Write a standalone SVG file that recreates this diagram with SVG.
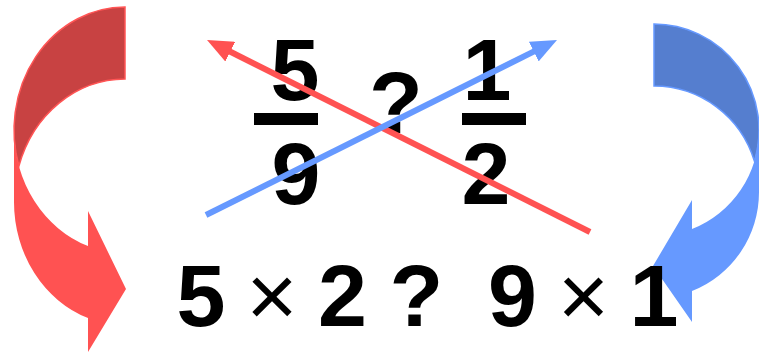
<svg xmlns="http://www.w3.org/2000/svg" width="759" height="354" viewBox="0 0 759 354">
<style>
.t{font-family:"Liberation Sans",Arial,sans-serif;font-weight:bold;font-size:88px;fill:#000;text-anchor:middle}
.x{font-family:"Liberation Sans",Arial,sans-serif;font-weight:normal;font-size:88px;fill:#000;text-anchor:middle}
.bar{fill:#000}
.rd{fill:#C84242;stroke:#FF5555;stroke-width:1.5}
.rl{fill:#FF5252}
.bd{fill:#557ECF;stroke:#6699FF;stroke-width:1.5}
.bl{fill:#6699FF}
.cr{stroke:#FF5252;stroke-width:6;fill:none}
.cb{stroke:#6699FF;stroke-width:6;fill:none}
</style>
<defs>
<marker id="hr" markerUnits="userSpaceOnUse" viewBox="0 0 26 22" refX="6" refY="11" markerWidth="26" markerHeight="22" orient="auto"><path d="M0,0 L26,11 L0,22 Z" fill="#FF5252"/></marker>
<marker id="hb" markerUnits="userSpaceOnUse" viewBox="0 0 26 22" refX="6" refY="11" markerWidth="26" markerHeight="22" orient="auto"><path d="M0,0 L26,11 L0,22 Z" fill="#6699FF"/></marker>
</defs>
<g id="curve-left">
<path class="rl" d="M14,130 L14,202 A111,123 0 0 0 88,318 L88,352 L126,289 L88,211 L88,246 A111,123 0 0 1 14,130 Z"/>
<path class="rd" d="M125,7 A111,123 0 0 0 18.9,166 A111,123 0 0 1 125,79 Z"/>
</g>
<g id="curve-right">
<path class="bl" d="M759,130 L759,192 A105,106.1 0 0 1 692,291 L692,322 L653,266 L692,200 L692,229 A105,106.1 0 0 0 759,130 Z"/>
<path class="bd" d="M654,24 A105,106.1 0 0 1 754.4,161.1 A105,106.1 0 0 0 654,86 Z"/>
</g>
<g id="fraction-left">
<text class="t" x="295" y="100">5</text>
<rect class="bar" x="254" y="113" width="64" height="12"/>
<text class="t" x="296" y="204">9</text>
</g>
<g id="question-top">
<text class="t" x="396" y="133">?</text>
</g>
<g id="fraction-right">
<text class="t" x="487" y="100">1</text>
<rect class="bar" x="462" y="113" width="64" height="12"/>
<text class="t" x="486" y="204">2</text>
</g>
<g id="equation">
<text class="t" x="201" y="326">5</text>
<text class="x" x="272" y="326">×</text>
<text class="t" x="342.5" y="326">2</text>
<text class="t" x="416.5" y="326">?</text>
<text class="t" x="512.5" y="326">9</text>
<text class="x" x="583.5" y="326">×</text>
<text class="t" x="654" y="326">1</text>
</g>
<g id="connectors">
<line class="cr" x1="590" y1="232" x2="224.9" y2="49" marker-end="url(#hr)"/>
<line class="cb" x1="206" y1="215" x2="539.1" y2="48.9" marker-end="url(#hb)"/>
</g>
</svg>
